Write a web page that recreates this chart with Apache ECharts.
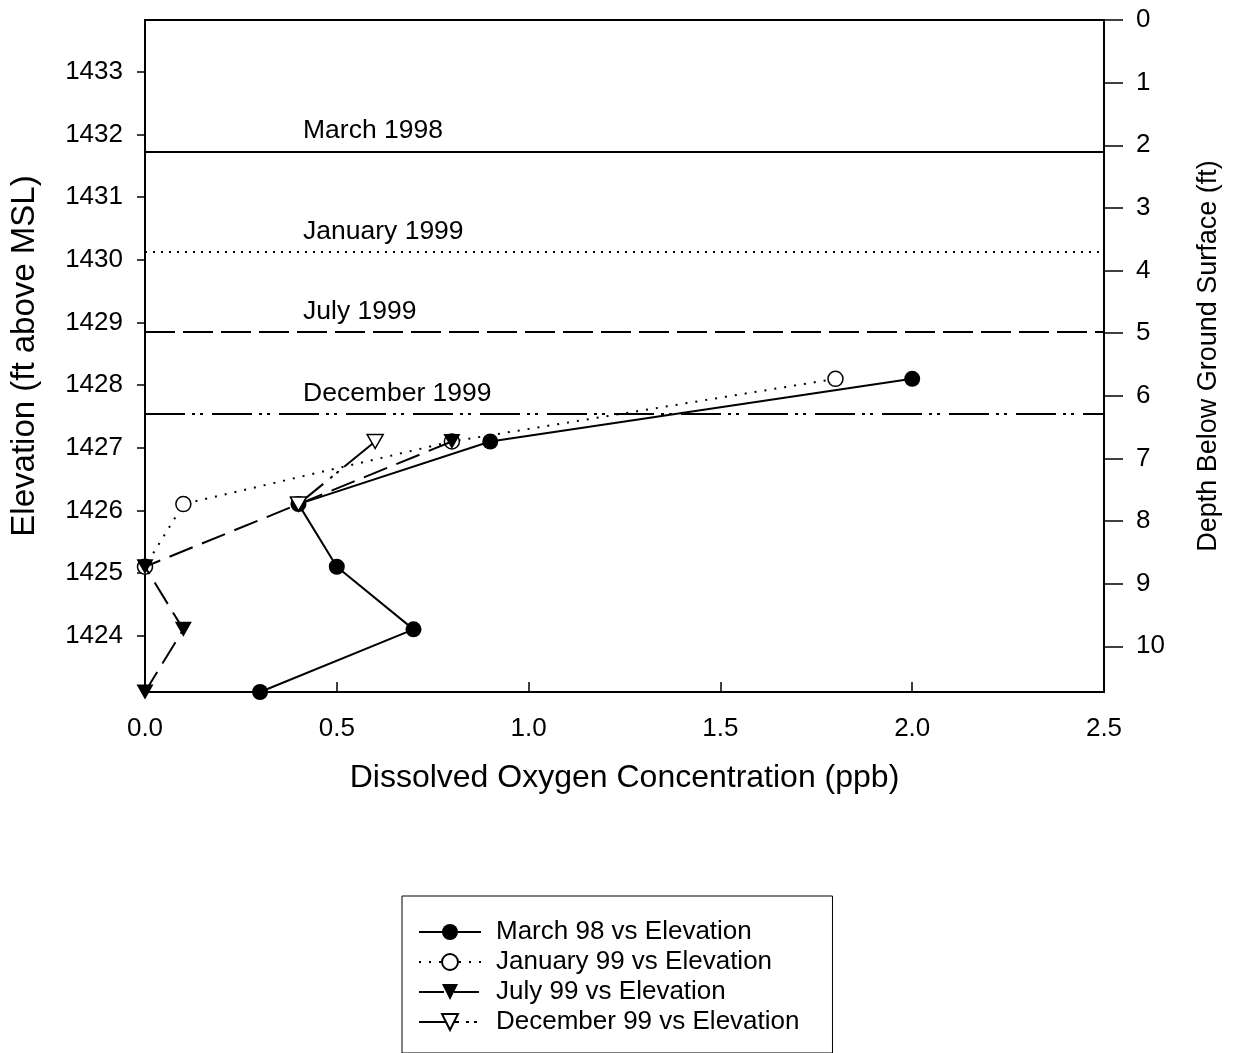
<!DOCTYPE html>
<html>
<head>
<meta charset="utf-8">
<script src="https://cdn.jsdelivr.net/npm/echarts@6/dist/echarts.min.js"></script>
<style>
  html, body { margin: 0; padding: 0; background: #fff; }
  #chart { width: 1233px; height: 1053px; }
</style>
</head>
<body>
<div id="chart"></div>
<script>
// Dissolved oxygen profiles (ppb) against elevation (ft above MSL)
const march98X = [2.0, 0.9, 0.4, 0.5, 0.7, 0.3];
const march98Elev = [1428.1, 1427.1, 1426.1, 1425.1, 1424.1, 1423.1];
const jan99X = [1.8, 0.8, 0.1, 0.0];
const jan99Elev = [1428.1, 1427.1, 1426.1, 1425.1];
const jul99X = [0.8, 0.4, 0.0, 0.1, 0.0];
const jul99Elev = [1427.1, 1426.1, 1425.1, 1424.1, 1423.1];
const dec99X = [0.6, 0.4];
const dec99Elev = [1427.1, 1426.1];

// Water levels by survey
const levelNames = ['March 1998', 'January 1999', 'July 1999', 'December 1999'];
const levelElev = [1431.73, 1430.13, 1428.85, 1427.54];

// Axis ranges and ticks
const groundElev = 1433.83;
const bottomElev = 1423.1;
const elevTicks = [1424, 1425, 1426, 1427, 1428, 1429, 1430, 1431, 1432, 1433];
const depthTicks = [0, 1, 2, 3, 4, 5, 6, 7, 8, 9, 10];
const doTicks = [0, 0.5, 1.0, 1.5, 2.0, 2.5];

const seriesNames = ['March 98 vs Elevation', 'January 99 vs Elevation',
                     'July 99 vs Elevation', 'December 99 vs Elevation'];

const FONT = '"Liberation Sans", Arial, sans-serif';
const pair = (xs, ys) => xs.map((x, i) => [x, ys[i]]);
const downTri = 'path://M0,0L16,0L8,14Z';

const levelStyles = [
  { type: 'solid' },
  { type: [2, 6] },
  { type: [30, 8] },
  { type: [40, 7, 3, 5, 3, 9] }
];

const chart = echarts.init(document.getElementById('chart'), null, { renderer: 'canvas' });

chart.setOption({
  animation: false,
  backgroundColor: '#fff',
  textStyle: { fontFamily: FONT, color: '#000' },
  grid: {
    left: 145, right: 129, top: 20, bottom: 361,
    show: true, borderColor: '#000', borderWidth: 2,
    outerBoundsMode: 'none'
  },
  xAxis: {
    type: 'value',
    min: 0, max: 2.5, interval: 0.5,
    name: 'Dissolved Oxygen Concentration (ppb)',
    nameLocation: 'middle', nameGap: 70, nameMoveOverlap: false,
    nameTextStyle: { fontSize: 32, fontFamily: FONT, color: '#000' },
    axisLine: { show: true, onZero: false, lineStyle: { color: '#000', width: 2 } },
    axisTick: { show: true, inside: true, length: 10, lineStyle: { color: '#000', width: 1.5 }, customValues: doTicks },
    axisLabel: { fontSize: 26, color: '#000', fontFamily: FONT, margin: 24, customValues: doTicks,
                 formatter: v => v.toFixed(1) },
    splitLine: { show: false }
  },
  yAxis: [
    {
      type: 'value',
      position: 'left',
      min: bottomElev, max: groundElev,
      name: 'Elevation (ft above MSL)',
      nameLocation: 'middle', nameGap: 104, nameMoveOverlap: false,
      nameTextStyle: { fontSize: 33, fontFamily: FONT, color: '#000' },
      axisLine: { show: true, onZero: false, lineStyle: { color: '#000', width: 2 } },
      axisTick: { show: true, inside: false, length: 8, lineStyle: { color: '#000', width: 1.5 }, customValues: elevTicks },
      axisLabel: { fontSize: 26, color: '#000', fontFamily: FONT, margin: 22, customValues: elevTicks,
                   formatter: v => String(v) },
      splitLine: { show: false }
    },
    {
      type: 'value',
      position: 'right',
      inverse: true,
      min: 0, max: groundElev - bottomElev,
      name: 'Depth Below Ground Surface (ft)',
      nameLocation: 'middle', nameGap: 91, nameMoveOverlap: false,
      nameTextStyle: { fontSize: 27, fontFamily: FONT, color: '#000' },
      axisLine: { show: true, onZero: false, lineStyle: { color: '#000', width: 2 } },
      axisTick: { show: true, inside: false, length: 19, lineStyle: { color: '#000', width: 1.5 }, customValues: depthTicks },
      axisLabel: { fontSize: 26, color: '#000', fontFamily: FONT, margin: 32, customValues: depthTicks,
                   formatter: v => String(v) },
      splitLine: { show: false }
    }
  ],
  legend: {
    data: seriesNames,
    orient: 'vertical',
    left: 402, top: 896,
    padding: [23, 33, 18, 16],
    itemGap: 4,
    itemWidth: 62,
    itemHeight: 20,
    backgroundColor: '#fff',
    borderColor: '#000',
    borderWidth: 1,
    textStyle: { fontSize: 26, fontFamily: FONT, color: '#000', lineHeight: 26, padding: [0, 0, 0, 10] }
  },
  series: [
    {
      name: seriesNames[0],
      type: 'line',
      data: pair(march98X, march98Elev),
      clip: false,
      symbol: 'circle', symbolSize: 16,
      itemStyle: { color: '#000', borderColor: '#000', borderWidth: 0 },
      lineStyle: { color: '#000', width: 2, type: 'solid' },
      z: 3
    },
    {
      name: seriesNames[1],
      type: 'line',
      data: pair(jan99X, jan99Elev),
      clip: false,
      symbol: 'circle', symbolSize: 15,
      itemStyle: { color: '#fff', borderColor: '#000', borderWidth: 1.5 },
      lineStyle: { color: '#000', width: 2, type: [2, 8] },
      z: 4
    },
    {
      name: seriesNames[2],
      type: 'line',
      data: pair(jul99X, jul99Elev),
      clip: false,
      symbol: downTri, symbolSize: [17, 15],
      itemStyle: { color: '#000', borderColor: '#000', borderWidth: 0 },
      lineStyle: { color: '#000', width: 2, type: [25, 10] },
      z: 5
    },
    {
      name: seriesNames[3],
      type: 'line',
      data: pair(dec99X, dec99Elev),
      clip: false,
      symbol: downTri, symbolSize: [16, 14],
      itemStyle: { color: '#fff', borderColor: '#000', borderWidth: 1.5 },
      lineStyle: { color: '#000', width: 2, type: [40, 7, 3, 5, 3, 9] },
      z: 6
    },
    {
      // water-level reference lines
      name: 'levels',
      type: 'line',
      data: [],
      yAxisIndex: 0,
      silent: true,
      markLine: {
        silent: true,
        symbol: 'none',
        animation: false,
        data: levelNames.map((n, i) => ({
          yAxis: levelElev[i],
          lineStyle: Object.assign({ color: '#000', width: 2 }, levelStyles[i]),
          label: {
            show: true,
            formatter: n,
            position: 'insideStartTop',
            distance: 7,
            padding: [0, 0, 0, 151],
            fontSize: 26.5,
            fontFamily: FONT,
            color: '#000'
          }
        }))
      },
      z: 2
    }
  ]
});
</script>
</body>
</html>
